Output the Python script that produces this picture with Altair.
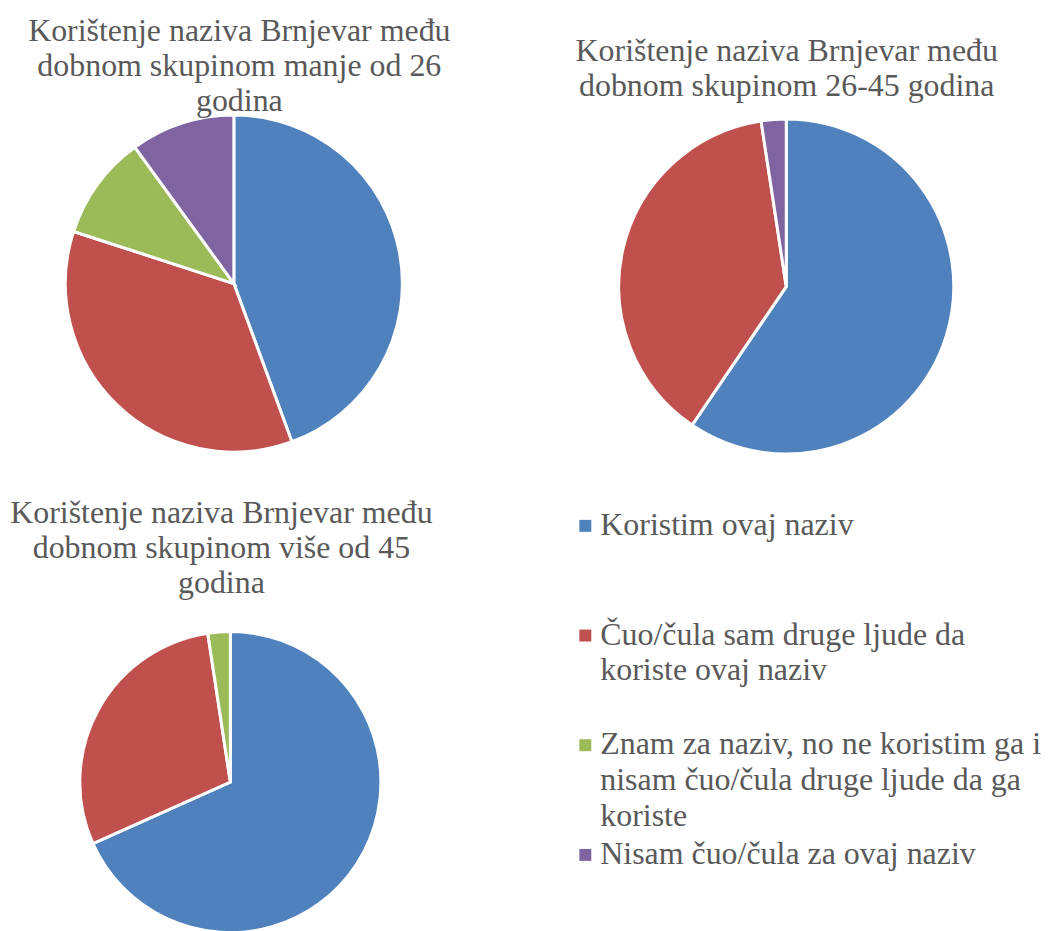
import altair as alt
import pandas as pd

categories = [
    "Koristim ovaj naziv",
    "Čuo/čula sam druge ljude da|koriste ovaj naziv",
    "Znam za naziv, no ne koristim ga i|nisam čuo/čula druge ljude da ga|koriste",
    "Nisam čuo/čula za ovaj naziv",
]
colors = ["#4F81BD", "#C0504D", "#9BBB59", "#8064A2"]

values_under26 = [44.4, 35.6, 10.0, 10.0]
values_26_45 = [59.5, 38.1, 0.0, 2.4]
values_over45 = [68.3, 29.3, 2.4, 0.0]

titles = [
    "Korištenje naziva Brnjevar među|dobnom skupinom manje od 26|godina",
    "Korištenje naziva Brnjevar među|dobnom skupinom 26-45 godina",
    "Korištenje naziva Brnjevar među|dobnom skupinom više od 45|godina",
]

FONT = "'Liberation Serif', 'Times New Roman', 'DejaVu Serif', serif"
TEXT_COLOR = "#595959"

color_scale = alt.Scale(domain=categories, range=colors)


def pie(values, cx, cy, r):
    df = pd.DataFrame({"cat": categories, "value": values, "idx": list(range(len(categories)))})
    return (
        alt.Chart(df)
        .transform_filter("datum.value > 0")
        .mark_arc(radius=r, stroke="white", strokeWidth=3)
        .encode(
            theta=alt.Theta("value:Q", stack=True),
            color=alt.Color("cat:N", scale=color_scale, legend=None),
            order=alt.Order("idx:Q"),
            x=alt.value(cx),
            y=alt.value(cy),
        )
    )


def title(text, cx, cy):
    return (
        alt.Chart(pd.DataFrame({"t": [text]}))
        .mark_text(
            font=FONT, fontSize=32, color=TEXT_COLOR, align="center",
            baseline="alphabetic", lineBreak="|", lineHeight=35,
        )
        .encode(text="t:N", x=alt.value(cx), y=alt.value(cy))
    )


legend_df = pd.DataFrame({"cat": categories, "idx": list(range(len(categories)))})
legend_y = alt.Y("cat:N", sort=categories, scale=alt.Scale(type="point", range=[527, 857], padding=0), axis=None)

legend_squares = (
    alt.Chart(legend_df)
    .mark_square(size=144, opacity=1, yOffset=-9)
    .encode(
        x=alt.value(579),
        y=legend_y,
        color=alt.Color("cat:N", scale=color_scale, legend=None),
    )
)
legend_text = (
    alt.Chart(legend_df)
    .mark_text(
        font=FONT, fontSize=32, color=TEXT_COLOR, align="left",
        baseline="alphabetic", lineBreak="|", lineHeight=36,
    )
    .encode(x=alt.value(594), y=legend_y, text="cat:N")
)

chart = (
    alt.layer(
        pie(values_under26, 226.5, 275, 169),
        pie(values_26_45, 780.5, 278, 168),
        pie(values_over45, 223, 775, 151),
        title(titles[0], 232, 32),
        title(titles[1], 781, 52),
        title(titles[2], 214, 515),
        legend_squares,
        legend_text,
    )
    .resolve_scale(theta="independent")
    .properties(width=1034, height=915, padding=0)
    .configure_view(stroke=None)
)

chart.save("out.html", embed_options={"renderer": "svg", "actions": False})
